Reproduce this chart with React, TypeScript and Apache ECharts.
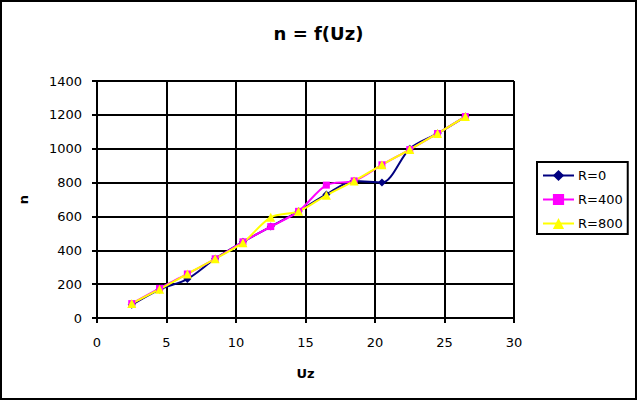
import React, { useEffect, useRef } from "react";
import * as echarts from "echarts";

const uz = [2.5, 4.5, 6.5, 8.5, 10.5, 12.5, 14.5, 16.5, 18.5, 20.5, 22.5, 24.5, 26.5];
const r0 = [78, 168, 230, 350, 450, 540, 630, 730, 810, 800, 1000, 1090, 1190];
const r400 = [85, 175, 260, 350, 450, 540, 630, 785, 810, 905, 995, 1090, 1190];
const r800 = [85, 170, 260, 350, 445, 595, 630, 725, 810, 905, 995, 1090, 1190];
const seriesNames = ["R=0", "R=400", "R=800"];

const FONT = "DejaVu Sans";

export default function App() {
  const ref = useRef<HTMLDivElement>(null);
  useEffect(() => {
    const chart = echarts.init(ref.current!, undefined, { renderer: "svg" });
    const pairs = (ys: number[]) => uz.map((x, i) => [x, ys[i]]);
    chart.setOption({
      animation: false,
      backgroundColor: "#ffffff",
      title: {
        text: "n = f(Uz)",
        left: "center",
        top: 19,
        textStyle: { fontFamily: FONT, fontSize: 18, fontWeight: "bold", color: "#000" },
      },
      grid: { left: 97, top: 81, width: 417, height: 237, containLabel: false },
      legend: {
        orient: "vertical",
        left: 537,
        top: 162,
        padding: [7, 5, 4, 5],
        itemGap: 11,
        itemWidth: 31,
        itemHeight: 14,
        borderColor: "#000",
        borderWidth: 2,
        textStyle: { fontFamily: FONT, fontSize: 13, color: "#000", padding: [0, 0, 0, -1] },
        data: seriesNames,
      },
      xAxis: {
        type: "value",
        min: 0,
        max: 30,
        interval: 5,
        name: "Uz",
        nameLocation: "middle",
        nameGap: 49,
        nameTextStyle: { fontFamily: FONT, fontSize: 13, fontWeight: "bold", color: "#000" },
        axisLine: { lineStyle: { color: "#000", width: 2 } },
        axisTick: { show: true, length: 5, lineStyle: { color: "#000", width: 2 } },
        axisLabel: { margin: 18, fontFamily: FONT, fontSize: 13, color: "#000" },
        splitLine: { show: true, lineStyle: { color: "#000", width: 2 } },
      },
      yAxis: {
        type: "value",
        min: 0,
        max: 1400,
        interval: 200,
        name: "n",
        nameLocation: "middle",
        nameGap: 67,
        nameTextStyle: { fontFamily: FONT, fontSize: 13, fontWeight: "bold", color: "#000" },
        axisLine: { show: true, lineStyle: { color: "#000", width: 2 } },
        axisTick: { show: true, length: 5, lineStyle: { color: "#000", width: 2 } },
        axisLabel: {
          margin: 15,
          fontFamily: FONT,
          fontSize: 13,
          color: "#000",
          formatter: (v: number) => String(v),
        },
        splitLine: { show: true, lineStyle: { color: "#000", width: 2 } },
      },
      series: [
        {
          name: seriesNames[0],
          type: "line",
          data: pairs(r0),
          smooth: 0.3,
          symbol: "diamond",
          symbolSize: 8,
          itemStyle: { color: "#000080" },
          lineStyle: { color: "#000080", width: 2 },
        },
        {
          name: seriesNames[1],
          type: "line",
          data: pairs(r400),
          smooth: 0.3,
          symbol: "rect",
          symbolSize: 7,
          itemStyle: { color: "#FF00FF" },
          lineStyle: { color: "#FF00FF", width: 2 },
        },
        {
          name: seriesNames[2],
          type: "line",
          data: pairs(r800),
          smooth: 0.3,
          symbol: "triangle",
          symbolSize: 9,
          itemStyle: { color: "#FFFF00" },
          lineStyle: { color: "#FFFF00", width: 2 },
        },
      ],
      graphic: [
        {
          type: "rect",
          shape: { x: 1, y: 1, width: 635, height: 398 },
          style: { fill: "none", stroke: "#000", lineWidth: 2 },
          silent: true,
        },
      ],
    });
    return () => chart.dispose();
  }, []);
  return (
    <div
      ref={ref}
      style={{ position: "fixed", left: 0, top: 0, width: 637, height: 400 }}
    />
  );
}
